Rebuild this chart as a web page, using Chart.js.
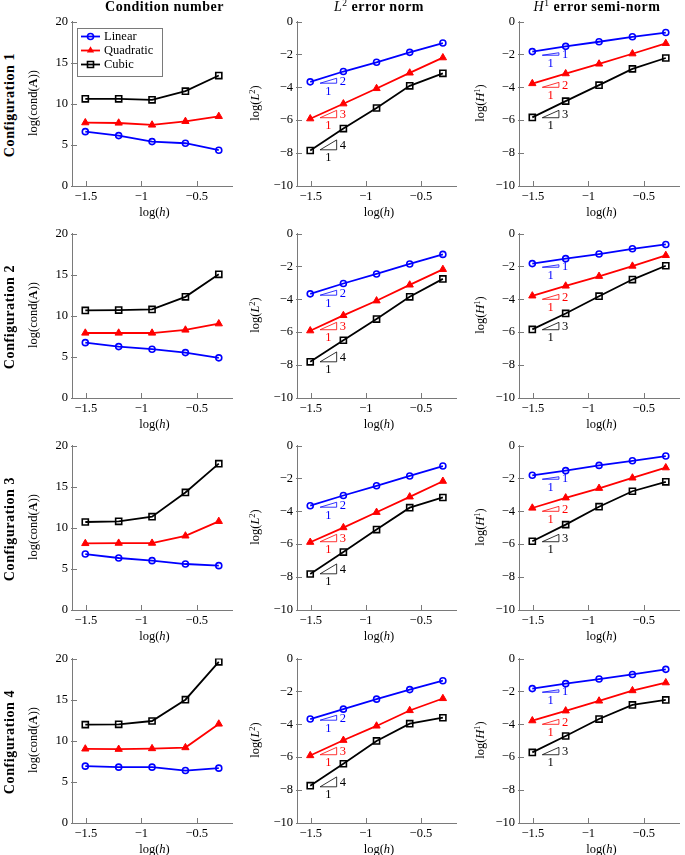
<!DOCTYPE html>
<html><head><meta charset="utf-8">
<script src="https://cdn.jsdelivr.net/npm/chart.js@4.4.1/dist/chart.umd.min.js"></script>
<style>
html,body{margin:0;padding:0;background:#fff;width:685px;height:855px;overflow:hidden;position:relative;font-family:"Liberation Serif","DejaVu Serif",serif;}
canvas{position:absolute;}
.t{position:absolute;white-space:nowrap;transform:translate(-50%,-50%);color:#000;line-height:1;}
.col{font-weight:bold;font-size:14px;letter-spacing:0.5px;}
.row{font-weight:bold;font-size:14px;letter-spacing:0.6px;transform:translate(-50%,-50%) rotate(-90deg);}
.ax{font-size:12.5px;}
.ay{font-size:12.5px;transform:translate(-50%,-50%) rotate(-90deg);}
sup{font-size:0.68em;vertical-align:0.5em;line-height:0;}
.nb{font-weight:normal;}
</style></head><body>
<script>
// ---------- data ----------
const logH = [-1.505, -1.204, -0.903, -0.602, -0.301];
const seriesNames = ['Linear', 'Quadratic', 'Cubic'];
const configNames = ['Configuration 1', 'Configuration 2', 'Configuration 3', 'Configuration 4'];

// condition number, one row per configuration
const condLinear = [
  [6.61, 6.13, 5.40, 5.20, 4.35],
  [6.73, 6.25, 5.93, 5.52, 4.88],
  [6.80, 6.32, 6.00, 5.59, 5.39],
  [6.91, 6.79, 6.79, 6.38, 6.67]
];
const condQuadratic = [
  [7.70, 7.66, 7.42, 7.86, 8.47],
  [7.90, 7.90, 7.90, 8.27, 9.03],
  [8.09, 8.13, 8.13, 9.01, 10.78],
  [9.01, 8.97, 9.05, 9.17, 12.04]
];
const condCubic = [
  [10.60, 10.60, 10.48, 11.53, 13.43],
  [10.65, 10.69, 10.77, 12.30, 15.04],
  [10.70, 10.78, 11.35, 14.29, 17.79],
  [11.96, 12.00, 12.40, 14.99, 19.60]
];
// L2 error norm
const l2Linear = [
  [-3.67, -3.04, -2.48, -1.875, -1.31],
  [-3.67, -3.04, -2.46, -1.85, -1.27],
  [-3.66, -3.04, -2.45, -1.85, -1.25],
  [-3.68, -3.08, -2.47, -1.89, -1.35]
];
const l2Quadratic = [
  [-5.91, -5.00, -4.07, -3.125, -2.20],
  [-5.91, -4.98, -4.09, -3.125, -2.18],
  [-5.88, -4.99, -4.06, -3.12, -2.17],
  [-5.90, -4.97, -4.10, -3.16, -2.43]
];
const l2Cubic = [
  [-7.84, -6.51, -5.26, -3.91, -3.15],
  [-7.80, -6.49, -5.20, -3.85, -2.76],
  [-7.81, -6.48, -5.11, -3.78, -3.16],
  [-7.73, -6.40, -5.01, -3.96, -3.60]
];
// H1 error semi-norm
const h1Linear = [
  [-1.83, -1.51, -1.23, -0.93, -0.67],
  [-1.83, -1.53, -1.25, -0.93, -0.665],
  [-1.81, -1.53, -1.21, -0.93, -0.64],
  [-1.83, -1.53, -1.25, -0.97, -0.66]
];
const h1Quadratic = [
  [-3.77, -3.17, -2.58, -1.96, -1.33],
  [-3.79, -3.19, -2.60, -1.98, -1.33],
  [-3.80, -3.18, -2.60, -1.97, -1.35],
  [-3.78, -3.18, -2.58, -1.95, -1.47]
];
const h1Cubic = [
  [-5.83, -4.84, -3.87, -2.88, -2.22],
  [-5.83, -4.86, -3.81, -2.80, -1.96],
  [-5.82, -4.81, -3.72, -2.78, -2.21],
  [-5.71, -4.71, -3.68, -2.82, -2.52]
];

// tick labels
const xTicks = [-1.5, -1, -0.5];
const condTicks = [0, 5, 10, 15, 20];
const errTicks = [0, -2, -4, -6, -8, -10];

// slope triangles
const l2Orders = [2, 3, 4];
const l2SlopeBase = [-3.75, -5.85, -7.8];
const h1Orders = [1, 2, 3];
const h1SlopeBase = [-2.05, -4.0, -5.85];
const slopeStartX = -1.415;
const slopeWidth = 0.15;

// ---------- layout & style ----------
const colLeft = [72, 297, 519];
const colWidth = [165, 164, 165];
const rowTop = [20, 232, 444, 657];
const rowHeight = 166;
const PADL = 40, PADT = 10, PADR = 1, PADB = 22;
const colors = ['#0000ff', '#ff0000', '#000000'];
const styles = [
  {pointStyle: 'circle', pointRadius: 3, pointBorderWidth: 1.6, pointBackgroundColor: 'rgba(255,255,255,0)'},
  {pointStyle: 'triangle', pointRadius: 4.2, pointBorderWidth: 1, pointBackgroundColor: '#ff0000'},
  {pointStyle: 'rect', pointRadius: 4.3, pointBorderWidth: 1.6, pointBackgroundColor: 'rgba(255,255,255,0)'}
];
const axisColor = '#7a7a7a';
const FONT = '"Liberation Serif", "DejaVu Serif", serif';
const fmt = v => String(v).replace('-', '\u2212');

const innerTicks = {
  id: 'innerTicks',
  beforeDatasetsDraw(chart) {
    const {ctx, chartArea: a, scales: {x, y}} = chart;
    ctx.save();
    ctx.strokeStyle = axisColor; ctx.lineWidth = 1;
    ctx.beginPath();
    x.ticks.forEach(t => {
      const px = Math.round(x.getPixelForValue(t.value)) + 0.5;
      ctx.moveTo(px, a.bottom + 1); ctx.lineTo(px, a.bottom - 5);
    });
    y.ticks.forEach(t => {
      const py = Math.round(y.getPixelForValue(t.value)) + 0.5;
      ctx.moveTo(a.left - 1, py); ctx.lineTo(a.left + 5, py);
    });
    ctx.stroke();
    ctx.restore();
  }
};

const slopePlugin = {
  id: 'slopes',
  afterDatasetsDraw(chart, args, opts) {
    if (!opts || !opts.orders) return;
    const {ctx, scales: {x, y}} = chart;
    ctx.save();
    ctx.lineWidth = 0.8;
    ctx.font = '12.5px ' + FONT;
    opts.orders.forEach((k, i) => {
      const y0 = opts.base[i], y1 = y0 + k * slopeWidth;
      const xa = x.getPixelForValue(slopeStartX), xb = x.getPixelForValue(slopeStartX + slopeWidth);
      const ya = y.getPixelForValue(y0), yb = y.getPixelForValue(y1);
      ctx.strokeStyle = colors[i]; ctx.fillStyle = colors[i];
      ctx.beginPath();
      ctx.moveTo(xa, ya); ctx.lineTo(xb, ya); ctx.lineTo(xb, yb); ctx.closePath();
      ctx.stroke();
      ctx.textAlign = 'left'; ctx.textBaseline = 'middle';
      ctx.fillText(String(k), xb + 3, (ya + yb) / 2 + 0.5);
      ctx.textAlign = 'center'; ctx.textBaseline = 'top';
      ctx.fillText('1', (xa + xb) / 2, ya + 2);
    });
    ctx.restore();
  }
};

function drawMarker(ctx, style, cx, cy, color) {
  ctx.save();
  ctx.strokeStyle = color; ctx.fillStyle = color; ctx.lineWidth = 1.6;
  ctx.beginPath();
  if (style === 'circle') { ctx.arc(cx, cy, 3, 0, Math.PI * 2); ctx.stroke(); }
  else if (style === 'triangle') {
    const r = 4.2;
    ctx.moveTo(cx, cy - r); ctx.lineTo(cx + r * 0.866, cy + r * 0.5); ctx.lineTo(cx - r * 0.866, cy + r * 0.5); ctx.closePath(); ctx.fill();
  } else { ctx.rect(cx - 3, cy - 3, 6, 6); ctx.stroke(); }
  ctx.restore();
}

const legendPlugin = {
  id: 'boxLegend',
  afterDraw(chart, args, opts) {
    if (!opts || !opts.show) return;
    const {ctx, chartArea: a} = chart;
    const bx = a.left + 5, by = a.top + 6, bw = 85, bh = 48;
    ctx.save();
    ctx.fillStyle = '#fff'; ctx.fillRect(bx, by, bw, bh);
    ctx.strokeStyle = axisColor; ctx.lineWidth = 1;
    ctx.strokeRect(Math.round(bx) + 0.5, Math.round(by) + 0.5, bw, bh);
    chart.data.datasets.forEach((ds, i) => {
      const ry = by + 9 + i * 14;
      ctx.strokeStyle = ds.borderColor; ctx.lineWidth = 1.8;
      ctx.beginPath(); ctx.moveTo(bx + 4, ry); ctx.lineTo(bx + 23, ry); ctx.stroke();
      drawMarker(ctx, ds.pointStyle, bx + 13.5, ry, ds.borderColor);
      ctx.fillStyle = '#000'; ctx.font = '12.5px ' + FONT;
      ctx.textAlign = 'left'; ctx.textBaseline = 'middle';
      ctx.fillText(ds.label, bx + 27, ry + 0.5);
    });
    ctx.restore();
  }
};

const metrics = [
  {series: [condLinear, condQuadratic, condCubic], min: 0, max: 20, ticks: condTicks},
  {series: [l2Linear, l2Quadratic, l2Cubic], min: -10, max: 0, ticks: errTicks, orders: l2Orders, base: l2SlopeBase},
  {series: [h1Linear, h1Quadratic, h1Cubic], min: -10, max: 0, ticks: errTicks, orders: h1Orders, base: h1SlopeBase}
];

for (let r = 0; r < 4; r++) {
  for (let c = 0; c < 3; c++) {
    const m = metrics[c];
    const cv = document.createElement('canvas');
    const w = colWidth[c] + PADL + PADR, h = rowHeight + PADT + PADB;
    cv.width = w; cv.height = h;
    cv.style.left = (colLeft[c] - PADL) + 'px';
    cv.style.top = (rowTop[r] - PADT) + 'px';
    cv.style.width = w + 'px'; cv.style.height = h + 'px';
    document.body.appendChild(cv);
    const datasets = m.series.map((arr, i) => Object.assign({
      label: seriesNames[i],
      data: logH.map((xv, j) => ({x: xv, y: arr[r][j]})),
      borderColor: colors[i],
      pointBorderColor: colors[i],
      borderWidth: 1.8,
      tension: 0,
      fill: false
    }, styles[i]));
    new Chart(cv, {
      type: 'line',
      data: {datasets},
      options: {
        responsive: false, animation: false, devicePixelRatio: 1,
        layout: {padding: {left: 0, top: PADT, right: PADR, bottom: 0}},
        plugins: {
          legend: {display: false}, tooltip: {enabled: false}, title: {display: false},
          slopes: m.orders ? {orders: m.orders, base: m.base} : {},
          boxLegend: {show: r === 0 && c === 0}
        },
        scales: {
          x: {
            type: 'linear', min: -1.625, max: -0.181,
            afterBuildTicks: s => { s.ticks = xTicks.map(v => ({value: v})); },
            afterFit: s => { s.height = PADB; },
            ticks: {callback: fmt, font: {family: FONT, size: 12.5}, color: '#000', padding: 3, maxRotation: 0, autoSkip: false},
            grid: {display: false, drawTicks: false, tickLength: 0},
            border: {display: true, color: axisColor, width: 1}
          },
          y: {
            type: 'linear', min: m.min, max: m.max,
            afterBuildTicks: s => { s.ticks = m.ticks.map(v => ({value: v})); },
            afterFit: s => { s.width = PADL; },
            ticks: {callback: fmt, font: {family: FONT, size: 12.5}, color: '#000', padding: 4, autoSkip: false},
            grid: {display: false, drawTicks: false, tickLength: 0},
            border: {display: true, color: axisColor, width: 1}
          }
        }
      },
      plugins: [innerTicks, slopePlugin, legendPlugin]
    });
  }
}

// ---------- text ----------
function addText(html, cls, x, y) {
  const d = document.createElement('div');
  d.className = 't ' + cls; d.innerHTML = html;
  d.style.left = x + 'px'; d.style.top = y + 'px';
  document.body.appendChild(d);
}
const colTitles = ['Condition number',
  '<span class="nb"><i>L</i><sup>2</sup></span> error norm',
  '<span class="nb"><i>H</i><sup>1</sup></span> error semi-norm'];
const colTitleX = [164.5, 379, 597];
const yTitles = ['log(cond(<b>A</b>))', 'log(<i>L</i><sup>2</sup>)', 'log(<i>H</i><sup>1</sup>)'];
const yTitleX = [33, 255, 480];
colTitles.forEach((t, c) => addText(t, 'col', colTitleX[c], 6.5));
for (let r = 0; r < 4; r++) {
  const cy = rowTop[r] + rowHeight / 2;
  addText(configNames[r], 'row', 9.5, cy + 2);
  for (let c = 0; c < 3; c++) {
    addText(yTitles[c], 'ay', yTitleX[c], cy);
    addText('log(<i>h</i>)', 'ax', colLeft[c] + colWidth[c] / 2, rowTop[r] + rowHeight + 26);
  }
}
</script>
</body></html>
